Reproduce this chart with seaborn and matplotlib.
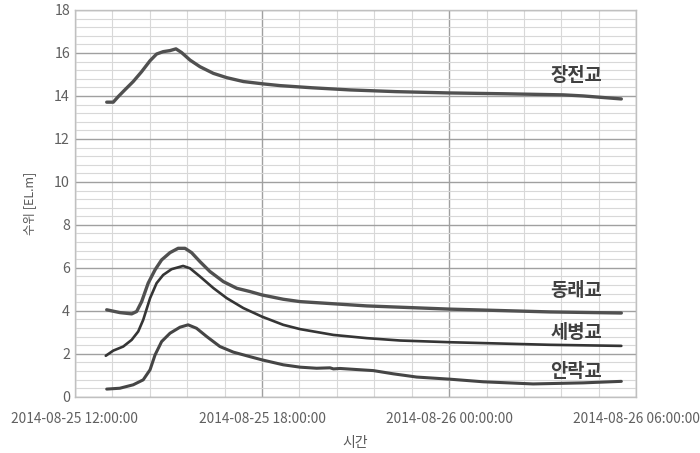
import pandas as pd
import seaborn as sns
import matplotlib.pyplot as plt
import matplotlib.dates as mdates
from matplotlib.ticker import MultipleLocator

# hours after 2014-08-25 12:00 and water level [EL.m] for each station
jangjeon_h = [1.02, 1.23, 1.39, 1.60, 1.87, 2.14, 2.41, 2.62, 2.83, 3.05, 3.24, 3.42,
              3.69, 4.01, 4.44, 4.87, 5.40, 6.04, 6.58, 7.6, 8.82, 10.3, 11.97, 13.8,
              15.66, 16.3, 17.52]
jangjeon_v = [13.71, 13.71, 13.97, 14.28, 14.67, 15.13, 15.64, 15.95, 16.06, 16.11, 16.19, 16.02,
              15.67, 15.36, 15.05, 14.85, 14.67, 14.56, 14.48, 14.38, 14.28, 14.2, 14.14, 14.1,
              14.05, 14.0, 13.86]

dongnae_h = [1.02, 1.44, 1.82, 1.98, 2.14, 2.35, 2.57, 2.78, 3.05, 3.31, 3.53, 3.74,
             4.01, 4.33, 4.76, 5.19, 5.61, 6.0, 6.68, 7.22, 8.29, 9.36, 10.43, 12.03,
             15.24, 17.52]
dongnae_v = [4.05, 3.92, 3.86, 3.97, 4.43, 5.29, 5.91, 6.37, 6.71, 6.91, 6.91, 6.71,
             6.29, 5.83, 5.36, 5.05, 4.9, 4.74, 4.54, 4.43, 4.33, 4.23, 4.17, 4.08,
             3.95, 3.9]

sebyeong_h = [0.99, 1.23, 1.55, 1.82, 2.03, 2.19, 2.41, 2.62, 2.83, 3.10, 3.47, 3.69,
              4.01, 4.44, 4.87, 5.40, 6.0, 6.68, 7.22, 8.29, 9.36, 10.43, 12.03, 15.24,
              17.52]
sebyeong_v = [1.91, 2.15, 2.34, 2.65, 3.04, 3.58, 4.59, 5.29, 5.67, 5.94, 6.09, 5.98,
              5.6, 5.06, 4.59, 4.13, 3.73, 3.35, 3.15, 2.88, 2.73, 2.62, 2.54, 2.42,
              2.37]

anrak_h = [1.02, 1.44, 1.87, 2.19, 2.41, 2.57, 2.78, 3.05, 3.37, 3.63, 3.90, 4.23,
           4.65, 5.08, 5.61, 6.0, 6.68, 7.22, 7.75, 8.18, 8.29, 8.5, 8.82, 9.57,
           10.21, 10.96, 12.03, 13.09, 14.69, 16.3, 17.52]
anrak_v = [0.36, 0.4, 0.56, 0.79, 1.26, 1.95, 2.57, 2.96, 3.24, 3.35, 3.19, 2.8,
           2.34, 2.08, 1.87, 1.72, 1.49, 1.38, 1.33, 1.35, 1.3, 1.32, 1.29, 1.22,
           1.07, 0.92, 0.82, 0.7, 0.6, 0.65, 0.72]

names = ['장전교', '동래교', '세병교', '안락교']
label_y = [14.95, 4.95, 3.0, 1.2]

start = pd.Timestamp('2014-08-25 12:00:00')
end = pd.Timestamp('2014-08-26 06:00:00')

series = [(jangjeon_h, jangjeon_v), (dongnae_h, dongnae_v),
          (sebyeong_h, sebyeong_v), (anrak_h, anrak_v)]
styles = [('#505050', 2.4), ('#505050', 2.4), ('#353535', 1.9), ('#454545', 2.2)]

sns.set_style('white')
plt.rcParams['font.family'] = ['Noto Sans CJK KR', 'DejaVu Sans']

fig, ax = plt.subplots(figsize=(7, 4.53), dpi=100)
fig.subplots_adjust(left=0.107, right=0.909, bottom=0.124, top=0.978)

for name, (h, v), (c, lw) in zip(names, series, styles):
    d = pd.DataFrame({'time': start + pd.to_timedelta(h, unit='h'), 'level': v})
    sns.lineplot(data=d, x='time', y='level', color=c, linewidth=lw, ax=ax)

ax.set_xlim(start, end)
ax.set_ylim(0, 18)
ax.yaxis.set_major_locator(MultipleLocator(2))
ax.yaxis.set_minor_locator(MultipleLocator(0.4))
ax.xaxis.set_major_locator(MultipleLocator(0.25))
ax.xaxis.set_minor_locator(MultipleLocator(0.05))
ax.xaxis.set_major_formatter(mdates.DateFormatter('%Y-%m-%d %H:%M:%S'))

ax.grid(which='major', color='#a0a0a0', linewidth=1.0)
ax.grid(which='minor', color='#d8d8d8', linewidth=0.8)
ax.set_axisbelow(True)
for s in ax.spines.values():
    s.set_color('#c0c0c0')
    s.set_linewidth(1.0)

ax.tick_params(which='both', length=0, labelsize=10.3, labelcolor='#606060')
ax.tick_params(axis='x', pad=11, labelsize=9.9)
ax.set_xlabel('시간', fontsize=10, color='#595959', labelpad=7)
ax.set_ylabel('수위 [EL.m]', fontsize=9, color='#595959', labelpad=13)

lx = start + pd.Timedelta(hours=16.9)
for name, y in zip(names, label_y):
    ax.text(lx, y, name, ha='right', va='center', fontsize=13.5,
            fontweight='bold', color='#404040')

fig.savefig('out.png')
